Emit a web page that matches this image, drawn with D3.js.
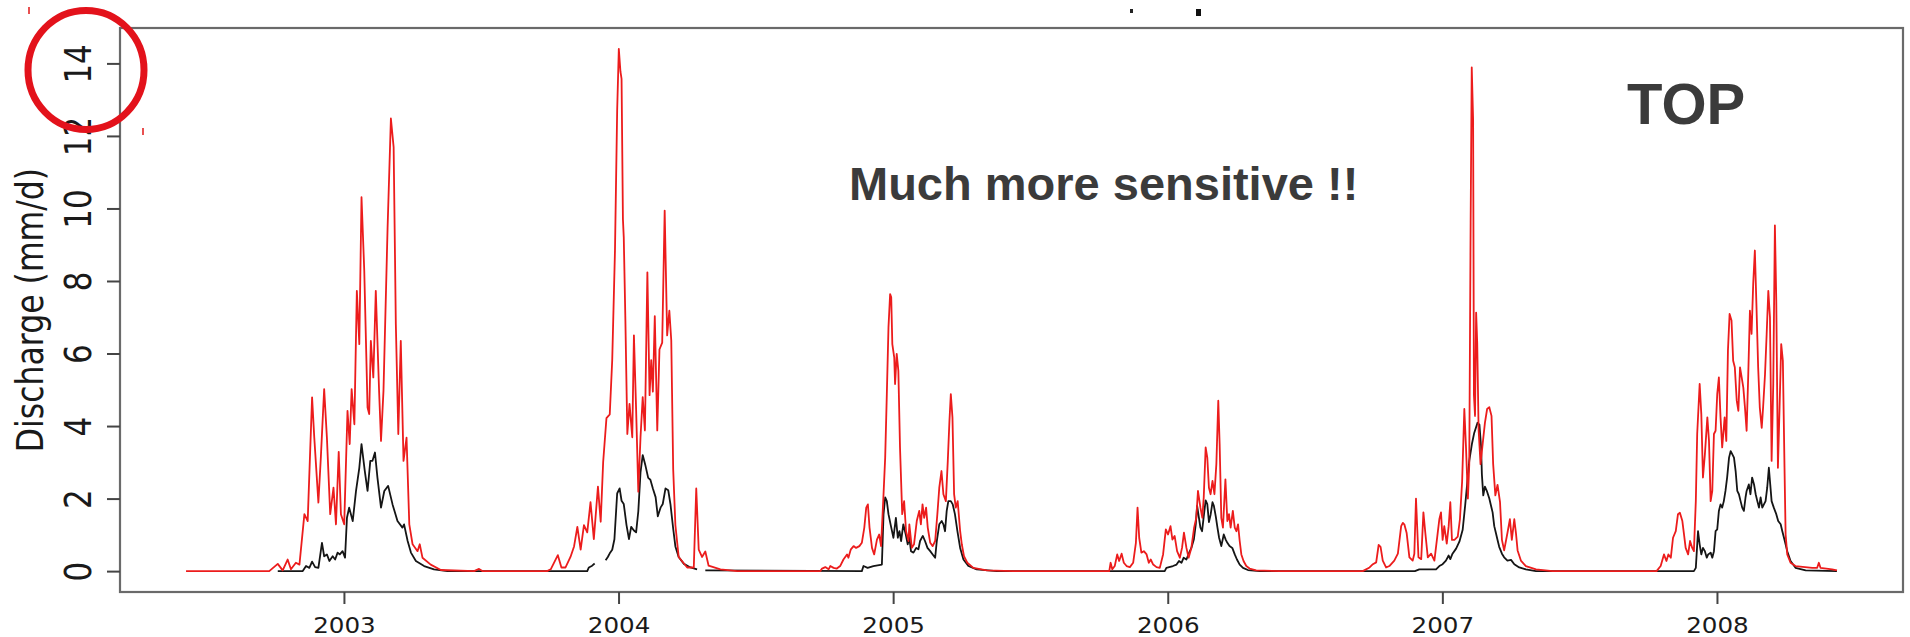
<!DOCTYPE html>
<html>
<head>
<meta charset="utf-8">
<script src="https://cdn.jsdelivr.net/npm/d3@7"></script>
<style>
body { margin: 0; background: #fff; overflow: hidden; }
</style>
</head>
<body>
<script>
var width = 1910, height = 637;
var plot = {left: 120, top: 28, right: 1903, bottom: 592};

var yearTicks = [2003, 2004, 2005, 2006, 2007, 2008];
var valueTicks = [0, 2, 4, 6, 8, 10, 12, 14];
var yTitle = "Discharge (mm/d)";
var noteText = "Much more sensitive !!";
var tagText = "TOP";

// red run (the sensitive one), one line per season
var redYears = [
    2002.425, 2002.728, 2002.759, 2002.777, 2002.795, 2002.807, 2002.825, 2002.838, 2002.856, 2002.868, 2002.884, 2002.892, 2002.907, 2002.916, 2002.928, 2002.938, 2002.950, 2002.962, 2002.971, 2002.981, 2002.989, 2003.001, 2003.013, 2003.021, 2003.028, 2003.038, 2003.047, 2003.056, 2003.064, 2003.074, 2003.086, 2003.092, 2003.098, 2003.107, 2003.116, 2003.128, 2003.135, 2003.144, 2003.159, 2003.171, 2003.181, 2003.189, 2003.198, 2003.207, 2003.217, 2003.228, 2003.238, 2003.250, 2003.268, 2003.276, 2003.286, 2003.316, 2003.353, 2003.474, 2003.492, 2003.504,
    2003.740, 2003.753, 2003.779, 2003.792, 2003.807, 2003.825, 2003.838, 2003.850, 2003.862, 2003.874, 2003.886, 2003.898, 2003.910, 2003.925, 2003.935, 2003.944, 2003.956, 2003.968, 2003.977, 2003.987, 2003.995, 2004.001, 2004.007, 2004.011, 2004.016, 2004.019, 2004.025, 2004.032, 2004.040, 2004.050, 2004.056, 2004.064, 2004.072, 2004.080, 2004.088, 2004.096, 2004.105, 2004.113, 2004.119, 2004.125, 2004.132, 2004.141, 2004.149, 2004.159, 2004.168, 2004.177, 2004.185, 2004.192, 2004.199, 2004.207, 2004.219, 2004.250, 2004.274, 2004.283, 2004.292, 2004.304, 2004.316, 2004.328, 2004.371, 2004.432,
    2004.735, 2004.741, 2004.753, 2004.765, 2004.771, 2004.783, 2004.795, 2004.807, 2004.819, 2004.832, 2004.837, 2004.846, 2004.856, 2004.865, 2004.877, 2004.886, 2004.895, 2004.902, 2004.908, 2004.914, 2004.923, 2004.931, 2004.941, 2004.949, 2004.956, 2004.965, 2004.971, 2004.977, 2004.983, 2004.989, 2004.993, 2004.997, 2005.004, 2005.007, 2005.013, 2005.019, 2005.025, 2005.033, 2005.040, 2005.047, 2005.056, 2005.059, 2005.068, 2005.076, 2005.086, 2005.095, 2005.101, 2005.107, 2005.113, 2005.120, 2005.126, 2005.135, 2005.144, 2005.153, 2005.161, 2005.168, 2005.176, 2005.183, 2005.192, 2005.199, 2005.205, 2005.210, 2005.216, 2005.222, 2005.228, 2005.235, 2005.244, 2005.250, 2005.258, 2005.270, 2005.292, 2005.341, 2005.437,
    2005.787, 2005.792, 2005.798, 2005.807, 2005.816, 2005.823, 2005.832, 2005.840, 2005.850, 2005.862, 2005.874, 2005.884, 2005.890, 2005.896, 2005.904, 2005.913, 2005.923, 2005.931, 2005.938, 2005.947, 2005.959, 2005.971, 2005.983, 2005.993, 2006.001, 2006.010, 2006.017, 2006.025, 2006.034, 2006.044, 2006.052, 2006.059, 2006.068, 2006.076, 2006.086, 2006.096, 2006.104, 2006.110, 2006.119, 2006.126, 2006.131, 2006.138, 2006.144, 2006.150, 2006.156, 2006.163, 2006.170, 2006.177, 2006.184, 2006.189, 2006.195, 2006.201, 2006.210, 2006.217, 2006.223, 2006.229, 2006.237, 2006.244, 2006.250, 2006.256, 2006.262, 2006.268, 2006.276, 2006.286, 2006.298, 2006.322, 2006.407,
    2006.710, 2006.735, 2006.747, 2006.759, 2006.768, 2006.775, 2006.783, 2006.795, 2006.807, 2006.825, 2006.838, 2006.850, 2006.856, 2006.862, 2006.870, 2006.880, 2006.892, 2006.898, 2006.904, 2006.913, 2006.923, 2006.931, 2006.938, 2006.947, 2006.959, 2006.971, 2006.983, 2006.989, 2006.995, 2007.001, 2007.007, 2007.016, 2007.023, 2007.029, 2007.035, 2007.044, 2007.056, 2007.064, 2007.072, 2007.080, 2007.086, 2007.093, 2007.098, 2007.103, 2007.107, 2007.112, 2007.115, 2007.119, 2007.123, 2007.127, 2007.132, 2007.139, 2007.147, 2007.155, 2007.163, 2007.171, 2007.179, 2007.185, 2007.193, 2007.201, 2007.210, 2007.217, 2007.225, 2007.237, 2007.246, 2007.253, 2007.262, 2007.268, 2007.274, 2007.286, 2007.304, 2007.341, 2007.401,
    2007.780, 2007.795, 2007.807, 2007.816, 2007.823, 2007.832, 2007.840, 2007.850, 2007.858, 2007.865, 2007.874, 2007.880, 2007.886, 2007.895, 2007.902, 2007.910, 2007.916, 2007.923, 2007.928, 2007.937, 2007.943, 2007.949, 2007.956, 2007.965, 2007.971, 2007.977, 2007.983, 2007.989, 2007.995, 2008.001, 2008.007, 2008.013, 2008.019, 2008.028, 2008.034, 2008.040, 2008.046, 2008.053, 2008.059, 2008.065, 2008.072, 2008.078, 2008.084, 2008.090, 2008.096, 2008.102, 2008.108, 2008.114, 2008.120, 2008.126, 2008.132, 2008.138, 2008.144, 2008.150, 2008.156, 2008.163, 2008.168, 2008.175, 2008.181, 2008.187, 2008.193, 2008.199, 2008.205, 2008.211, 2008.216, 2008.222, 2008.228, 2008.234, 2008.240, 2008.246, 2008.250, 2008.256, 2008.268, 2008.286, 2008.347, 2008.365, 2008.371, 2008.377, 2008.419, 2008.437
];
var redValues = [
    0, 0, 0.20, 0.02, 0.32, 0.05, 0.23, 0.18, 1.57, 1.38, 4.79, 3.68, 1.89, 3.15, 5.02, 3.68, 1.57, 2.30, 1.29, 3.29, 1.57, 1.29, 4.42, 3.50, 5.02, 4.05, 7.73, 6.26, 10.31, 8.29, 4.51, 4.33, 6.35, 5.34, 7.73, 4.97, 3.59, 4.97, 9.48, 12.48, 11.69, 6.81, 3.78, 6.35, 3.04, 3.68, 1.29, 0.74, 0.55, 0.74, 0.37, 0.18, 0.03, 0, 0.06, 0,
    0, 0.05, 0.44, 0.10, 0.10, 0.39, 0.68, 1.22, 0.59, 1.27, 1.07, 1.90, 0.88, 2.33, 1.36, 3.01, 4.22, 4.32, 5.82, 8.83, 12.70, 14.40, 13.77, 13.57, 9.70, 9.21, 6.89, 3.78, 4.61, 3.69, 6.50, 4.46, 2.19, 3.69, 4.80, 3.88, 8.24, 4.85, 5.82, 4.95, 7.03, 3.88, 6.11, 6.30, 9.94, 6.50, 7.18, 6.36, 2.81, 1.27, 0.39, 0.10, 0.10, 2.28, 0.59, 0.39, 0.54, 0.15, 0.05, 0,
    0, 0.07, 0.11, 0.05, 0.14, 0.09, 0.07, 0.14, 0.32, 0.46, 0.37, 0.60, 0.69, 0.64, 0.69, 0.78, 1.20, 1.75, 1.84, 1.20, 0.64, 0.46, 0.87, 1.01, 0.69, 2.12, 3.13, 4.88, 6.72, 7.64, 7.55, 6.26, 5.89, 5.16, 5.99, 5.52, 3.41, 1.57, 1.93, 1.10, 0.83, 1.29, 0.64, 0.74, 1.38, 1.66, 1.29, 1.84, 1.47, 1.75, 1.20, 0.78, 0.69, 0.83, 1.57, 2.30, 2.76, 2.12, 1.93, 3.04, 4.14, 4.88, 4.24, 2.12, 1.75, 1.93, 1.10, 0.74, 0.41, 0.23, 0.09, 0.02, 0,
    0, 0.23, 0.05, 0.14, 0.46, 0.28, 0.48, 0.23, 0.14, 0.11, 0.23, 0.78, 1.75, 0.92, 0.51, 0.55, 0.46, 0.23, 0.32, 0.18, 0.11, 0.09, 0.46, 1.15, 1.01, 1.24, 0.87, 0.97, 0.55, 0.37, 0.64, 1.06, 0.64, 0.37, 0.64, 1.20, 1.47, 2.21, 1.75, 1.47, 2.03, 3.41, 3.13, 2.30, 2.12, 2.49, 2.12, 2.95, 4.70, 3.50, 1.47, 1.20, 2.53, 1.38, 1.57, 1.20, 1.66, 1.20, 1.10, 1.29, 0.83, 0.46, 0.28, 0.14, 0.07, 0.02, 0,
    0, 0.10, 0.19, 0.24, 0.72, 0.67, 0.29, 0.10, 0.14, 0.29, 0.48, 1.24, 1.33, 1.28, 1.05, 0.38, 0.29, 0.48, 2.00, 0.38, 0.33, 1.62, 1.05, 0.38, 0.48, 0.29, 1.05, 1.43, 1.62, 0.86, 1.24, 0.76, 1.24, 1.90, 0.86, 0.86, 0.95, 1.43, 2.47, 4.47, 3.43, 2.00, 2.95, 9.61, 13.89, 12.46, 4.85, 4.28, 7.13, 6.28, 3.90, 2.95, 3.52, 4.09, 4.47, 4.52, 4.28, 2.95, 2.09, 2.38, 1.90, 0.86, 0.57, 1.05, 1.43, 0.86, 1.43, 1.05, 0.57, 0.29, 0.14, 0.05, 0,
    0, 0.14, 0.46, 0.28, 0.46, 0.37, 0.92, 1.10, 1.57, 1.61, 1.38, 1.01, 0.64, 0.46, 0.83, 0.64, 0.55, 1.93, 3.78, 5.16, 4.33, 2.58, 3.22, 4.24, 3.59, 1.93, 2.21, 3.78, 3.87, 4.88, 5.34, 4.24, 3.41, 4.24, 3.59, 6.08, 7.09, 6.91, 5.80, 5.62, 4.70, 4.42, 5.62, 5.34, 5.06, 4.51, 3.87, 5.43, 7.18, 6.54, 7.92, 8.84, 7.27, 5.62, 4.51, 3.95, 4.51, 5.43, 6.54, 7.73, 7.00, 3.04, 5.16, 9.53, 7.46, 2.85, 4.51, 6.26, 5.80, 2.85, 1.01, 0.46, 0.23, 0.14, 0.09, 0.09, 0.23, 0.09, 0.05, 0.02
];

// black run, null = missing day
var blackYears = [
    2002.759, 2002.850, 2002.862, 2002.874, 2002.884, 2002.895, 2002.907, 2002.920, 2002.928, 2002.938, 2002.947, 2002.959, 2002.968, 2002.977, 2002.985, 2002.995, 2003.004, 2003.011, 2003.019, 2003.032, 2003.044, 2003.056, 2003.064, 2003.076, 2003.086, 2003.096, 2003.104, 2003.113, 2003.122, 2003.135, 2003.147, 2003.161, 2003.177, 2003.195, 2003.213, 2003.219, 2003.232, 2003.244, 2003.262, 2003.292, 2003.328, 2003.377,
    2003.886, 2003.892, 2003.904, 2003.913, 2003.933, 2003.953, 2003.961, 2003.968, 2003.977, 2003.985, 2003.995, 2004.004, 2004.011, 2004.019, 2004.029, 2004.038, 2004.046, 2004.056, 2004.064, 2004.072, 2004.080, 2004.088, 2004.098, 2004.108, 2004.116, 2004.125, 2004.135, 2004.143, 2004.153, 2004.161, 2004.171, 2004.181, 2004.189, 2004.199, 2004.207, 2004.219, 2004.238, 2004.262, 2004.286, 2004.300, 2004.316,
    2004.886, 2004.892, 2004.907, 2004.928, 2004.959, 2004.965, 2004.971, 2004.977, 2004.983, 2004.992, 2005.001, 2005.010, 2005.017, 2005.023, 2005.029, 2005.037, 2005.046, 2005.053, 2005.059, 2005.065, 2005.074, 2005.084, 2005.092, 2005.098, 2005.108, 2005.116, 2005.125, 2005.135, 2005.144, 2005.153, 2005.159, 2005.168, 2005.177, 2005.183, 2005.189, 2005.195, 2005.201, 2005.210, 2005.217, 2005.225, 2005.234, 2005.244, 2005.256, 2005.274, 2005.304, 2005.377,
    2005.989, 2005.995, 2006.019, 2006.032, 2006.041, 2006.050, 2006.058, 2006.068, 2006.078, 2006.086, 2006.095, 2006.102, 2006.107, 2006.114, 2006.119, 2006.125, 2006.131, 2006.138, 2006.144, 2006.150, 2006.156, 2006.163, 2006.168, 2006.175, 2006.181, 2006.187, 2006.195, 2006.204, 2006.211, 2006.217, 2006.225, 2006.235, 2006.244, 2006.252, 2006.262, 2006.274, 2006.292, 2006.335,
    2006.900, 2006.916, 2006.977, 2006.989, 2007.001, 2007.013, 2007.023, 2007.029, 2007.037, 2007.050, 2007.062, 2007.074, 2007.083, 2007.090, 2007.098, 2007.108, 2007.116, 2007.128, 2007.135, 2007.141, 2007.144, 2007.149, 2007.155, 2007.163, 2007.171, 2007.177, 2007.183, 2007.189, 2007.195, 2007.201, 2007.207, 2007.217, 2007.225, 2007.237, 2007.250, 2007.262, 2007.280, 2007.304, 2007.341,
    2007.916, 2007.923, 2007.931, 2007.937, 2007.943, 2007.949, 2007.956, 2007.963, 2007.968, 2007.977, 2007.983, 2007.989, 2007.995, 2008.001, 2008.007, 2008.013, 2008.019, 2008.025, 2008.031, 2008.037, 2008.044, 2008.050, 2008.056, 2008.062, 2008.068, 2008.074, 2008.080, 2008.086, 2008.092, 2008.098, 2008.104, 2008.108, 2008.116, 2008.122, 2008.128, 2008.135, 2008.141, 2008.147, 2008.153, 2008.159, 2008.165, 2008.171, 2008.177, 2008.183, 2008.189, 2008.194, 2008.199, 2008.207, 2008.216, 2008.223, 2008.232, 2008.238, 2008.247, 2008.256, 2008.268, 2008.286, 2008.323, 2008.437
];
var blackValues = [
    0, 0, 0.14, 0.09, 0.26, 0.11, 0.09, 0.78, 0.41, 0.46, 0.28, 0.41, 0.32, 0.51, 0.46, 0.55, 0.37, 1.47, 1.75, 1.38, 2.21, 2.85, 3.50, 2.76, 2.21, 3.04, 3.04, 3.27, 2.58, 1.75, 2.21, 2.35, 1.84, 1.38, 1.20, 1.29, 0.83, 0.51, 0.28, 0.14, 0.05, 0,
    0, 0.10, 0.15, 0.21, null, 0.30, 0.39, 0.49, 0.59, 0.88, 2.14, 2.28, 1.94, 1.85, 1.27, 0.88, 1.22, 1.12, 1.07, 1.65, 2.72, 3.20, 2.91, 2.57, 2.52, 2.28, 2.04, 1.51, 1.75, 1.85, 2.28, 2.23, 1.85, 1.17, 0.68, 0.39, 0.20, 0.10, 0.05, null, 0.02,
    0, 0.14, 0.09, 0.14, 0.18, 1.57, 2.03, 1.93, 1.57, 1.24, 0.92, 1.47, 0.92, 1.10, 0.83, 1.29, 1.01, 0.74, 0.92, 0.55, 0.51, 0.64, 0.60, 0.83, 0.97, 0.83, 0.64, 0.55, 0.46, 0.37, 0.83, 1.29, 1.38, 1.29, 1.10, 1.66, 1.93, 1.93, 1.84, 1.57, 1.10, 0.64, 0.32, 0.14, 0.05, 0,
    0, 0.09, 0.14, 0.18, 0.28, 0.23, 0.37, 0.32, 0.51, 0.64, 0.87, 1.29, 1.80, 1.45, 1.20, 1.10, 1.50, 1.95, 1.85, 1.35, 1.55, 1.90, 1.80, 1.50, 1.20, 0.92, 0.69, 1.01, 0.87, 0.78, 0.69, 0.64, 0.46, 0.32, 0.18, 0.09, 0.03, 0,
    0, 0.05, 0.05, 0.14, 0.19, 0.29, 0.43, 0.33, 0.48, 0.62, 0.81, 1.14, 1.81, 2.38, 3.04, 3.52, 3.81, 4.09, 4.04, 3.43, 2.66, 2.09, 2.33, 2.19, 2.00, 1.81, 1.62, 1.24, 1.05, 0.86, 0.67, 0.48, 0.38, 0.29, 0.31, 0.19, 0.10, 0.05, 0,
    0, 0.09, 1.10, 0.74, 0.46, 0.64, 0.55, 0.37, 0.46, 0.51, 0.37, 0.55, 1.10, 1.15, 1.66, 1.84, 1.75, 1.93, 2.21, 2.58, 3.13, 3.31, 3.22, 3.13, 2.76, 2.21, 2.12, 1.93, 1.75, 1.66, 2.03, 2.21, 2.39, 2.12, 2.58, 2.39, 2.12, 1.93, 1.75, 2.03, 1.75, 1.84, 1.93, 2.30, 2.85, 2.39, 1.93, 1.75, 1.57, 1.38, 1.29, 1.10, 0.83, 0.55, 0.28, 0.09, 0.02, 0
];

function toPoints(years, values) {
    var n = Math.min(years.length, values.length);
    var pts = [];
    for (var i = 0; i < n; i++) {
        pts.push({year: years[i], v: values[i]});
    }
    return pts;
}

var redData = toPoints(redYears, redValues);
var blackData = toPoints(blackYears, blackValues);

// R style axes: 4% padding around the data range
var xMin = d3.min(redYears.concat(blackYears));
var xMax = d3.max(redYears.concat(blackYears));
var xPad = (xMax - xMin) * 0.04;
var yMax = d3.max(redValues.concat(blackValues));
var yPad = yMax * 0.04;

var x = d3.scaleLinear()
            .domain([xMin - xPad, xMax + xPad])
            .range([plot.left, plot.right]);

var y = d3.scaleLinear()
            .domain([-yPad, yMax + yPad])
            .range([plot.bottom, plot.top]);

var svg = d3.select("body")
            .append("svg")
            .attr("width", width)
            .attr("height", height)
            .style("display", "block")
            .style("background", "#fff");

var line = d3.line()
            .defined(function(d) { return d.v !== null; })
            .x(function(d) { return x(d.year); })
            .y(function(d) { return y(d.v); });

svg.append("path")
    .datum(blackData)
    .attr("d", line)
    .attr("fill", "none")
    .attr("stroke", "#151515")
    .attr("stroke-width", 1.8)
    .attr("stroke-linejoin", "round");

svg.append("path")
    .datum(redData)
    .attr("d", line)
    .attr("fill", "none")
    .attr("stroke", "#ec1c1c")
    .attr("stroke-width", 1.8)
    .attr("stroke-linejoin", "round");

// frame
svg.append("rect")
    .attr("x", plot.left)
    .attr("y", plot.top)
    .attr("width", plot.right - plot.left)
    .attr("height", plot.bottom - plot.top)
    .attr("fill", "none")
    .attr("stroke", "#6a6a6a")
    .attr("stroke-width", 2.2);

var xAxis = svg.append("g")
    .attr("transform", "translate(0," + plot.bottom + ")")
    .call(d3.axisBottom(x)
            .tickValues(yearTicks)
            .tickFormat(d3.format("d"))
            .tickSize(12));

xAxis.select(".domain").remove();
xAxis.selectAll("line").attr("stroke", "#444").attr("stroke-width", 2);
xAxis.selectAll("text")
    .attr("y", 41)
    .attr("dy", null)
    .attr("transform", "scale(1.2,1)")
    .attr("fill", "#1a1a1a")
    .attr("font-family", "DejaVu Sans, sans-serif")
    .attr("font-size", 20.5);

var yAxis = svg.append("g")
    .attr("transform", "translate(" + plot.left + ",0)")
    .call(d3.axisLeft(y)
            .tickValues(valueTicks)
            .tickSize(13));

yAxis.select(".domain").remove();
yAxis.selectAll("line").attr("stroke", "#444").attr("stroke-width", 2);
yAxis.selectAll("text")
    .attr("x", null)
    .attr("dy", null)
    .attr("text-anchor", "middle")
    .attr("transform", "translate(-29,0) scale(1.2,1) rotate(-90)")
    .attr("fill", "#1a1a1a")
    .attr("font-family", "DejaVu Sans, sans-serif")
    .attr("font-size", 31);

svg.append("text")
    .attr("transform", "translate(43," + ((plot.top + plot.bottom) / 2) + ") scale(1.2,1) rotate(-90)")
    .attr("text-anchor", "middle")
    .attr("fill", "#1a1a1a")
    .attr("font-family", "DejaVu Sans, sans-serif")
    .attr("font-size", 31.5)
    .text(yTitle);

// annotations pasted on top of the plot
svg.append("text")
    .attr("x", 849)
    .attr("y", 200)
    .attr("fill", "#3b3b3b")
    .attr("font-family", "Liberation Sans, Arial, sans-serif")
    .attr("font-weight", "bold")
    .attr("font-size", 47)
    .text(noteText);

svg.append("text")
    .attr("x", 1627)
    .attr("y", 124)
    .attr("fill", "#3b3b3b")
    .attr("font-family", "Liberation Sans, Arial, sans-serif")
    .attr("font-weight", "bold")
    .attr("font-size", 58)
    .text(tagText);

svg.append("ellipse")
    .attr("cx", 86)
    .attr("cy", 70)
    .attr("rx", 58)
    .attr("ry", 59.5)
    .attr("fill", "none")
    .attr("stroke", "#e3121b")
    .attr("stroke-width", 7);

// small leftovers of the cropped slide
svg.append("rect").attr("x", 28).attr("y", 7).attr("width", 2).attr("height", 7).attr("fill", "#e85050");
svg.append("rect").attr("x", 142).attr("y", 128).attr("width", 2).attr("height", 7).attr("fill", "#e85050");
svg.append("rect").attr("x", 1130).attr("y", 9).attr("width", 3).attr("height", 4).attr("fill", "#222");
svg.append("rect").attr("x", 1196).attr("y", 9).attr("width", 5).attr("height", 7).attr("fill", "#111");
</script>
</body>
</html>
